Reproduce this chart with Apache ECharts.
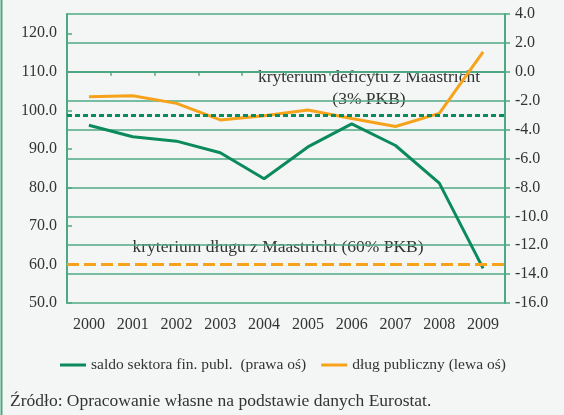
<!DOCTYPE html>
<html lang="pl">
<head>
    <meta charset="UTF-8">
    <title>Dług i saldo sektora finansów publicznych</title>
    <script src="https://cdn.jsdelivr.net/npm/echarts@6/dist/echarts.min.js"></script>
    <style>
        html, body { margin: 0; padding: 0; background: #f4f6f5; }
    </style>
</head>
<body>
<div id="main" style="width: 564px;height:415px;"></div>

<script type="text/javascript">
    // dane
    var years = ['2000', '2001', '2002', '2003', '2004', '2005', '2006', '2007', '2008', '2009'];
    var saldo = [-3.7, -4.5, -4.8, -5.6, -7.4, -5.2, -3.6, -5.1, -7.7, -13.6];
    var dlug = [103.5, 103.8, 101.8, 97.5, 98.6, 100.1, 97.9, 95.8, 99.2, 115.2];
    var kryteriumDeficytu = -3;
    var kryteriumDlugu = 60;

    var serif = 'Liberation Serif';
    var green = '#0b8a5c';
    var orange = '#f7a21b';
    var gridGreen = '#4fa884';
    var txt = '#333333';
    var legendIcon = 'path://M0,6 L26,6 L26,9 L0,9 Z';

    var myChart = echarts.init(document.getElementById('main'));

    myChart.setOption({
        backgroundColor: '#f4f6f5',
        animation: false,
        textStyle: { fontFamily: serif },
        grid: { left: 67, right: 59, top: 14, bottom: 112 },
        legend: {
            left: 55,
            top: 352,
            itemWidth: 26,
            itemHeight: 14,
            itemGap: 15,
            textStyle: { fontFamily: serif, fontSize: 15.5, color: txt },
            data: [
                { name: 'saldo sektora fin. publ.  (prawa oś)', itemStyle: { color: green }, icon: legendIcon },
                { name: 'dług publiczny (lewa oś)', itemStyle: { color: orange }, icon: legendIcon }
            ]
        },
        xAxis: {
            type: 'category',
            data: years,
            boundaryGap: true,
            axisLine: { lineStyle: { color: gridGreen, width: 2 } },
            axisTick: { show: true, length: 4, lineStyle: { color: gridGreen, width: 1.5 } },
            axisLabel: { fontFamily: serif, fontSize: 16, color: txt, margin: 14 }
        },
        yAxis: [{
            type: 'value',
            position: 'left',
            min: 50,
            max: 125,
            interval: 10,
            axisLine: { show: true, lineStyle: { color: gridGreen, width: 2 } },
            axisTick: { show: true, inside: true, length: 5, lineStyle: { color: gridGreen, width: 1.5 } },
            splitLine: { show: false },
            axisLabel: {
                fontFamily: serif, fontSize: 16, color: txt, margin: 10,
                showMaxLabel: false,
                formatter: function (v) { return v.toFixed(1); }
            }
        }, {
            type: 'value',
            position: 'right',
            min: -16,
            max: 4,
            interval: 2,
            axisLine: { show: true, lineStyle: { color: gridGreen, width: 2 } },
            axisTick: { show: true, length: 5, lineStyle: { color: gridGreen, width: 1.5 } },
            splitLine: { show: true, lineStyle: { color: gridGreen, width: 1.5 } },
            axisLabel: {
                fontFamily: serif, fontSize: 16, color: txt, margin: 10,
                formatter: function (v) { return v.toFixed(1); }
            }
        }],
        series: [{
            name: 'saldo sektora fin. publ.  (prawa oś)',
            type: 'line',
            yAxisIndex: 1,
            data: saldo,
            symbol: 'none',
            lineStyle: { color: green, width: 3 },
            itemStyle: { color: green },
            z: 3,
            markLine: {
                silent: true,
                symbol: 'none',
                label: { show: false },
                lineStyle: { color: green, width: 3, type: [5, 3], opacity: 1 },
                data: [{ yAxis: kryteriumDeficytu }]
            }
        }, {
            name: 'dług publiczny (lewa oś)',
            type: 'line',
            yAxisIndex: 0,
            data: dlug,
            symbol: 'none',
            lineStyle: { color: orange, width: 3 },
            itemStyle: { color: orange },
            z: 4,
            markLine: {
                silent: true,
                symbol: 'none',
                label: { show: false },
                lineStyle: { color: orange, width: 3, type: [12, 5], opacity: 1 },
                data: [{ yAxis: kryteriumDlugu }]
            }
        }],
        graphic: [{
            type: 'line',
            shape: { x1: 1.5, y1: 0, x2: 1.5, y2: 415 },
            style: { stroke: gridGreen, lineWidth: 2 }
        }, {
            type: 'text',
            style: {
                x: 369,
                y: 88,
                text: 'kryterium deficytu z Maastricht\n(3% PKB)',
                font: '17.5px "Liberation Serif"',
                fill: txt,
                align: 'center',
                verticalAlign: 'middle',
                lineHeight: 22
            }
        }, {
            type: 'text',
            style: {
                x: 278,
                y: 247,
                text: 'kryterium długu z Maastricht (60% PKB)',
                font: '17.5px "Liberation Serif"',
                fill: txt,
                align: 'center',
                verticalAlign: 'middle'
            }
        }, {
            type: 'text',
            style: {
                x: 10,
                y: 401,
                text: 'Źródło: Opracowanie własne na podstawie danych Eurostat.',
                font: '17.5px "Liberation Serif"',
                fill: txt,
                verticalAlign: 'middle'
            }
        }]
    });
</script>

</body>
</html>
